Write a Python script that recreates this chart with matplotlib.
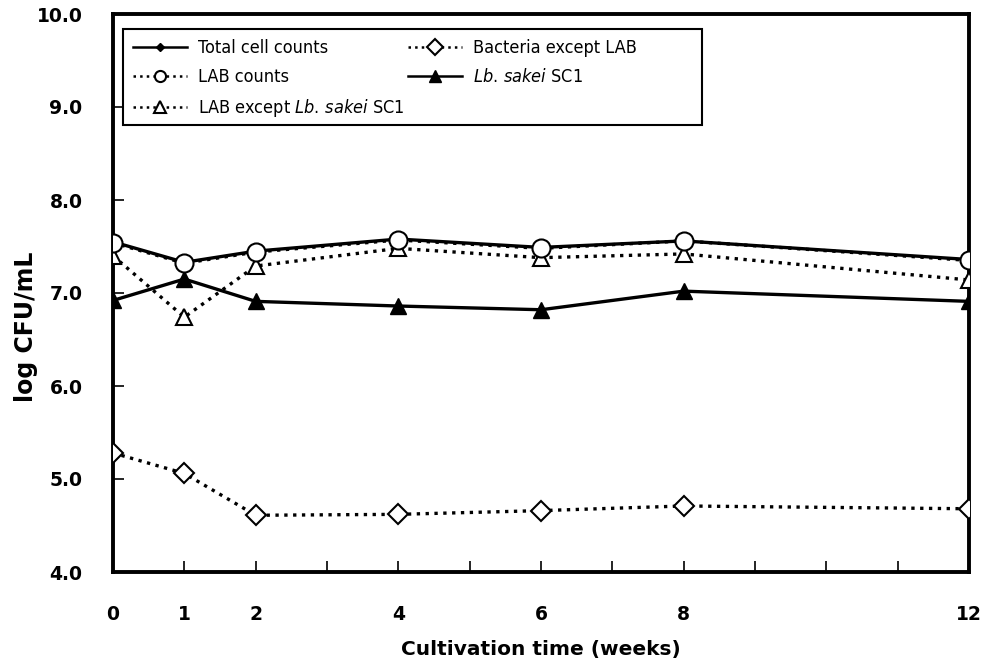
import numpy as np
import matplotlib
matplotlib.use("Agg")
import matplotlib.pyplot as plt
from matplotlib.font_manager import FontProperties
from matplotlib.patches import Rectangle

weeks = [0, 1, 2, 4, 6, 8, 12]
total_counts = [7.55, 7.33, 7.45, 7.58, 7.49, 7.56, 7.36]
lab_counts = [7.54, 7.32, 7.44, 7.57, 7.48, 7.56, 7.35]
lab_except = [7.40, 6.74, 7.29, 7.48, 7.38, 7.42, 7.14]
bacteria_except = [5.28, 5.06, 4.61, 4.62, 4.66, 4.71, 4.68]
sakei = [6.92, 7.15, 6.91, 6.86, 6.82, 7.02, 6.91]

xtick_pos = list(range(0, 13))
xtick_lab = ["0", "1", "2", "", "4", "", "6", "", "8", "", "", "", "12"]
ytick_pos = [4, 5, 6, 7, 8, 9, 10]

plt.rcParams["mathtext.fontset"] = "custom"
plt.rcParams["mathtext.it"] = "DejaVu Sans:style=italic:stretch=condensed"
plt.rcParams["mathtext.rm"] = "DejaVu Sans:stretch=condensed"

fig = plt.figure(figsize=(9.89, 6.66), dpi=100)
ax = fig.add_axes([113 / 989, 94 / 666, 856 / 989, 558 / 666])

lw = 2.4
ax.plot(weeks, total_counts, "-", color="black", lw=lw, marker="D", ms=4,
        mfc="black", mec="black", label="Total cell counts", zorder=3)
ax.plot(weeks, lab_counts, ":", color="black", lw=lw, marker="o", ms=13,
        mfc="white", mec="black", mew=1.5, label="LAB counts", zorder=5)
ax.plot(weeks, lab_except, ":", color="black", lw=lw, marker="^", ms=12,
        mfc="white", mec="black", mew=1.5,
        label=r"LAB except $\it{Lb.\,sakei}$ SC1", zorder=4)
ax.plot(weeks, bacteria_except, ":", color="black", lw=lw, marker="D", ms=10,
        mfc="white", mec="black", mew=1.5, label="Bacteria except LAB", zorder=4)
ax.plot(weeks, sakei, "-", color="black", lw=lw, marker="^", ms=11,
        mfc="black", mec="black", label=r"$\it{Lb.\,sakei}$ SC1", zorder=4)

ax.set_xlim(0, 12)
ax.set_ylim(4, 10)
ax.set_xticks(xtick_pos)
ax.set_xticklabels(xtick_lab)
ax.set_yticks(ytick_pos)
ax.set_yticklabels([f"{v:.1f}" for v in ytick_pos])
ax.tick_params(direction="in", length=8, width=1.2, labelsize=13.5, pad=22)
ax.tick_params(axis="x", pad=24)
for lbl in ax.get_xticklabels() + ax.get_yticklabels():
    lbl.set_fontweight("heavy")

for s in ax.spines.values():
    s.set_linewidth(2.8)

ax.set_xlabel("Cultivation time (weeks)", fontsize=14.5, fontweight="bold", labelpad=11)
ax.set_ylabel("log CFU/mL", fontsize=17, fontweight="bold")
ax.yaxis.set_label_coords(-0.088, 0.44)

# legend box drawn separately (wider than its entries, as in the original)
ax.add_patch(Rectangle((0.0117, 0.801), 0.676, 0.172, transform=ax.transAxes,
                       fill=True, facecolor="white", edgecolor="black",
                       lw=1.5, zorder=6))

legfont = FontProperties(family="DejaVu Sans", stretch="condensed", size=13)
leg = ax.legend(ncol=2, loc="upper left", bbox_to_anchor=(0.0117, 0.973),
                borderaxespad=0, frameon=False, prop=legfont,
                handlelength=3.0, columnspacing=0.2, labelspacing=0.62,
                borderpad=0.55, handletextpad=0.6)
leg.set_zorder(7)
for h in leg.legend_handles:
    ms = h.get_markersize()
    h.set_markersize(min(ms, 8))
    h.set_linewidth(1.8)

fig.savefig("out.png", dpi=100)
